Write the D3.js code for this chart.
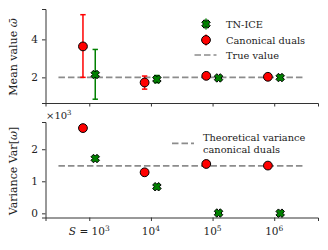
<!DOCTYPE html>
<html>
<head>
<meta charset="utf-8">
<script src="https://cdn.jsdelivr.net/npm/d3@7"></script>
<style>
body { margin: 0; background: #fff; }
text { font-family: "DejaVu Serif", serif; fill: #222; }
</style>
</head>
<body>
<div id="vis"></div>
<script>
// data
const sizes = [1e3, 1e4, 1e5, 1e6]
const tickExp = ['3', '4', '5', '6']

const dualMean = [3.63, 1.73, 2.08, 2.03]
const dualLo = [2.0, 1.38, 2.08, 2.03]
const dualHi = [5.3, 2.07, 2.08, 2.03]
const iceMean = [2.15, 1.9, 1.97, 1.99]
const iceLo = [0.85, 1.72, 1.97, 1.99]
const iceHi = [3.47, 2.1, 1.97, 1.99]
const trueValue = 2

const dualVar = [2.66, 1.28, 1.54, 1.49]   // x10^3
const iceVar = [1.71, 0.83, 0.01, 0.005]
const theoVar = 1.48

const W = 328, H = 250

const svg = d3.select('#vis').append('svg')
    .attr('width', W).attr('height', H)

const x = d3.scaleLog()
    .domain([Math.pow(10, 2.29), Math.pow(10, 6.71)])
    .range([45.5, 318])

const yTop = d3.scaleLinear().domain([0.65, 5.6]).range([103, 9])
const yBot = d3.scaleLinear().domain([-0.13, 2.85]).range([217.5, 122])

const offL = 0.79, offR = 1.25
const red = '#ff0000', green = '#008000', grey = '#8c8c8c'

function xMark(g, cx, cy, s) {
    // matplotlib style filled X
    const a = s / 2, b = s / 3.4
    const pts = [[-a, -a + b], [-a + b, -a], [0, -b], [a - b, -a], [a, -a + b], [b, 0],
                 [a, a - b], [a - b, a], [0, b], [-a + b, a], [-a, a - b], [-b, 0]]
    g.append('path')
        .attr('d', 'M' + pts.map(p => (cx + p[0]) + ',' + (cy + p[1])).join('L') + 'Z')
        .attr('fill', green).attr('stroke', '#000').attr('stroke-width', 1)
}

function errbar(g, cx, lo, hi, color) {
    g.append('line').attr('x1', cx).attr('x2', cx).attr('y1', lo).attr('y2', hi)
        .attr('stroke', color).attr('stroke-width', 1.5)
    ;[lo, hi].forEach(yy => g.append('line')
        .attr('x1', cx - 2.7).attr('x2', cx + 2.7).attr('y1', yy).attr('y2', yy)
        .attr('stroke', color).attr('stroke-width', 1.5))
}

function axes(y, ticks, showXLabels) {
    const gx = svg.append('g').attr('transform', `translate(0,${y.range()[0]})`)
        .call(d3.axisBottom(x).tickValues(sizes).tickSize(3.5).tickFormat(''))
    const gy = svg.append('g').attr('transform', `translate(${x.range()[0]},0)`)
        .call(d3.axisLeft(y).tickValues(ticks).tickSize(3.5).tickPadding(4).tickFormat(d3.format('d')))
    ;[gx, gy].forEach(g => {
        g.select('.domain').attr('stroke', '#333').attr('stroke-width', 1)
        g.selectAll('.tick line').attr('stroke', '#333').attr('stroke-width', 1)
        g.selectAll('.tick text').style('font-size', '10.5px').attr('fill', '#222')
    })
    if (showXLabels) {
        sizes.forEach((s, i) => {
            const t = svg.append('text').attr('x', x(s)).attr('y', 235)
                .attr('text-anchor', 'middle').style('font-size', '10.5px')
            if (i === 0) {
                t.append('tspan').style('font-style', 'italic').text('S')
                t.append('tspan').text(' = 10')
            } else {
                t.append('tspan').text('10')
            }
            t.append('tspan').attr('dy', -4.5).style('font-size', '7.5px').text(tickExp[i])
        })
    }
}

// ---------- top panel: mean ----------
axes(yTop, [2, 4], false)
const gTop = svg.append('g')
gTop.append('line')
    .attr('x1', x(Math.pow(10, 2.5))).attr('x2', x(Math.pow(10, 6.5)))
    .attr('y1', yTop(trueValue)).attr('y2', yTop(trueValue))
    .attr('stroke', grey).attr('stroke-width', 1.7).attr('stroke-dasharray', '6.5,3')

sizes.forEach((s, i) => {
    errbar(gTop, x(s * offL), yTop(dualLo[i]), yTop(dualHi[i]), red)
    gTop.append('circle').attr('cx', x(s * offL)).attr('cy', yTop(dualMean[i])).attr('r', 4.4)
        .attr('fill', red).attr('stroke', '#000').attr('stroke-width', 1)
    errbar(gTop, x(s * offR), yTop(iceLo[i]), yTop(iceHi[i]), green)
    xMark(gTop, x(s * offR), yTop(iceMean[i]), 8.5)
})

// legend top
const lg = svg.append('g')
lg.append('line').attr('x1', 206).attr('x2', 206).attr('y1', 18.5).attr('y2', 29.5)
    .attr('stroke', green).attr('stroke-width', 1.5)
xMark(lg, 206, 24, 8.5)
lg.append('line').attr('x1', 206).attr('x2', 206).attr('y1', 34.5).attr('y2', 45.5)
    .attr('stroke', red).attr('stroke-width', 1.5)
lg.append('circle').attr('cx', 206).attr('cy', 40).attr('r', 4.4)
    .attr('fill', red).attr('stroke', '#000')
lg.append('line').attr('x1', 194.5).attr('x2', 216.5).attr('y1', 55).attr('y2', 55)
    .attr('stroke', grey).attr('stroke-width', 1.7).attr('stroke-dasharray', '6.5,3')
;[['TN-ICE', 24], ['Canonical duals', 40], ['True value', 55]].forEach(d => {
    lg.append('text').attr('x', 226).attr('y', d[1] + 3.5).style('font-size', '9.8px').text(d[0])
})

// ---------- bottom panel: variance ----------
axes(yBot, [0, 1, 2], true)
const gBot = svg.append('g')
gBot.append('line')
    .attr('x1', x(Math.pow(10, 2.5))).attr('x2', x(Math.pow(10, 6.5)))
    .attr('y1', yBot(theoVar)).attr('y2', yBot(theoVar))
    .attr('stroke', grey).attr('stroke-width', 1.7).attr('stroke-dasharray', '6.5,3')

sizes.forEach((s, i) => {
    gBot.append('circle').attr('cx', x(s * offL)).attr('cy', yBot(dualVar[i])).attr('r', 4.4)
        .attr('fill', red).attr('stroke', '#000').attr('stroke-width', 1)
    xMark(gBot, x(s * offR), yBot(iceVar[i]), 8.5)
})

gBot.append('line').attr('x1', 172).attr('x2', 194).attr('y1', 143.3).attr('y2', 143.3)
    .attr('stroke', grey).attr('stroke-width', 1.7).attr('stroke-dasharray', '6.5,3')
gBot.append('text').attr('x', 203).attr('y', 141).style('font-size', '9.8px').text('Theoretical variance')
gBot.append('text').attr('x', 203).attr('y', 152.5).style('font-size', '9.8px').text('canonical duals')

// x10^3 offset text
const off = svg.append('text').attr('x', 46).attr('y', 119).style('font-size', '10px')
off.append('tspan').text('×10')
off.append('tspan').attr('dy', -4).style('font-size', '7px').text('3')

// y labels
const yl1 = svg.append('text').attr('transform', 'translate(17,57) rotate(-90)')
    .attr('text-anchor', 'middle').style('font-size', '11px')
yl1.append('tspan').text('Mean value ')
yl1.append('tspan').style('font-style', 'italic').text('ω\u0304')

const yl2 = svg.append('text').attr('transform', 'translate(17,171) rotate(-90)')
    .attr('text-anchor', 'middle').style('font-size', '11px')
yl2.append('tspan').text('Variance Var[')
yl2.append('tspan').style('font-style', 'italic').text('ω')
yl2.append('tspan').text(']')
</script>
</body>
</html>
